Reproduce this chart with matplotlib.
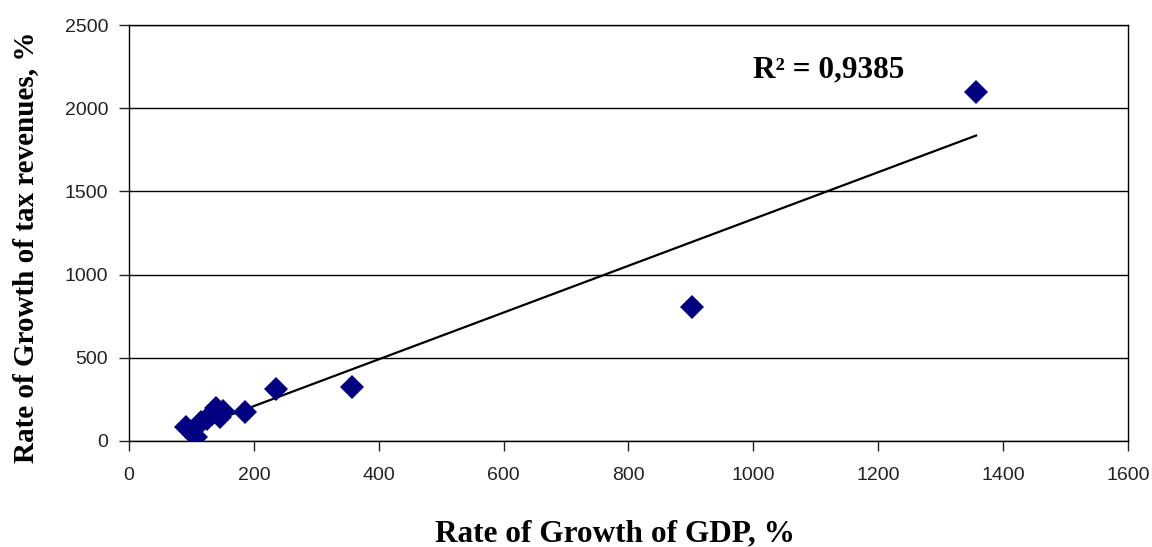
import numpy as np
import matplotlib
matplotlib.use('Agg')
from matplotlib import pyplot as plt

# growth rates, %
gdp = [92, 108, 116, 125, 133, 140, 146, 150, 186, 235, 357, 902, 1357]
tax = [86, 26, 116, 130, 160, 196, 146, 180, 176, 312, 325, 805, 2097]
xticks = [0, 200, 400, 600, 800, 1000, 1200, 1400, 1600]
yticks = [0, 500, 1000, 1500, 2000, 2500]

fig = plt.figure(figsize=(11.52, 5.47), dpi=100)
ax = fig.add_axes([0.112, 0.194, 0.867, 0.760])

k, b = np.polyfit(gdp, tax, 1)
xl = np.array([min(gdp), max(gdp)])
ax.plot(xl, k*xl + b, color='black', lw=1.6, zorder=2)
ax.plot(gdp, tax, 'D', color='#000080', ms=12, mew=0, zorder=3)

ax.set_xlim(0, 1600)
ax.set_ylim(0, 2500)
ax.set_xticks(xticks)
ax.set_yticks(yticks)
ax.yaxis.grid(True, color='black', lw=1)
ax.set_axisbelow(True)
for s in ax.spines.values():
    s.set_color('black')
    s.set_linewidth(1)
ax.tick_params(direction='out', length=7, width=1, labelsize=14, colors='#222222')
ax.tick_params(axis='x', pad=12)
ax.tick_params(axis='y', pad=8)
for lab in ax.get_xticklabels() + ax.get_yticklabels():
    lab.set_family('Liberation Sans')

ax.text(1000, 2230, 'R² = 0,9385', fontsize=22.5, fontweight='bold', family='Liberation Serif',
        va='center', ha='left')

fig.text(615/1152, 1 - 541/547, 'Rate of Growth of GDP, %', fontsize=22.5, fontweight='bold',
         family='Liberation Serif', ha='center', va='baseline')
fig.text(26/1152, 1 - 247/547, 'Rate of Growth of tax revenues, %', fontsize=21, fontweight='bold',
         family='Liberation Serif', ha='center', va='center', rotation=90)

plt.savefig('out.png')
